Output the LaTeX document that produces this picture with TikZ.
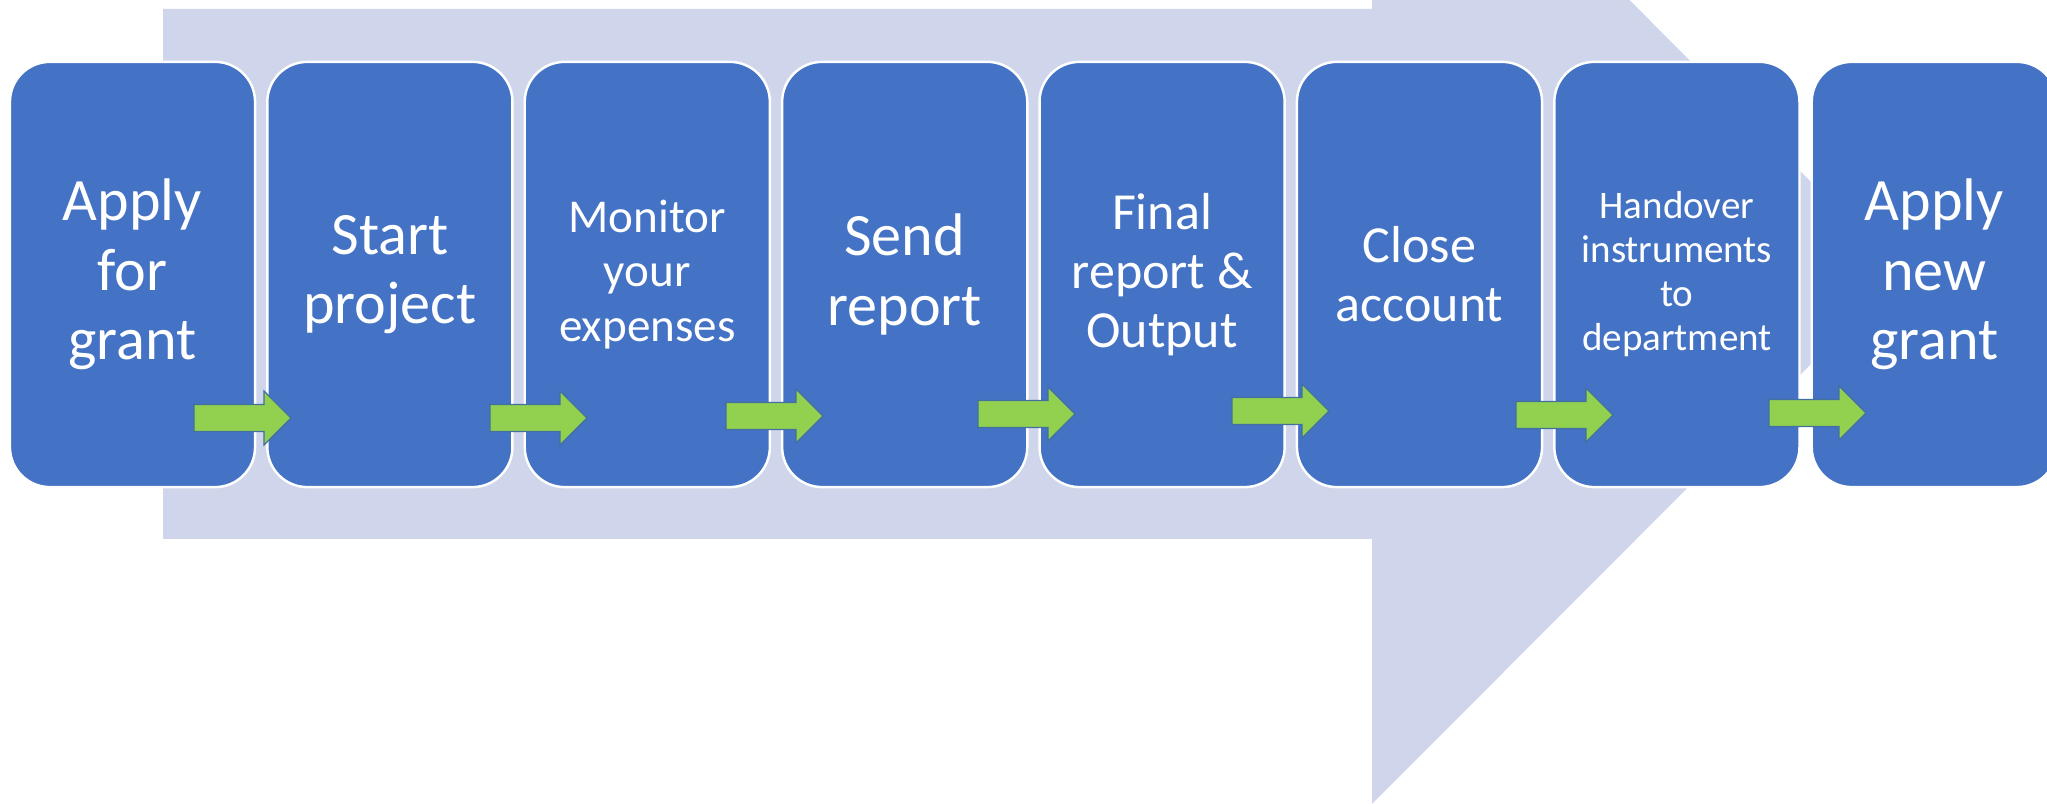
\documentclass[tikz,border=0pt]{standalone}
\usepackage{fontspec}
\setmainfont{Carlito}
\definecolor{boxblue}{HTML}{4472C4}
\definecolor{lavender}{HTML}{CFD5EA}
\definecolor{leafgreen}{HTML}{92D050}
\definecolor{arrowedge}{HTML}{41719C}

\begin{document}
\begin{tikzpicture}[x=0.01cm, y=-0.01cm,
  stepbox/.style={draw=white, line width=0.7pt, fill=boxblue, rounded corners=0.4cm,
    minimum width=2.45cm, minimum height=4.25cm, inner sep=0pt, align=center, text=white},
  bigtext/.style={font=\fontsize{17.1pt}{19.7pt}\selectfont},
  midtext/.style={font=\fontsize{14.8pt}{16.8pt}\selectfont},
  smalltext/.style={font=\fontsize{13.4pt}{15.4pt}\selectfont},
  tinytext/.style={font=\fontsize{11.1pt}{12.5pt}\selectfont},
  backarrow/.style={fill=lavender},
  blockarrow/.pic={
    \path[fill=leafgreen, draw=arrowedge, line width=0.35pt]
      (0,-13.5) -- (70,-13.5) -- (70,-27) -- (97,0) -- (70,27) -- (70,13.5) -- (0,13.5) -- cycle;
  }
]
\useasboundingbox (0,0) rectangle (2047,804);
\clip (0,0) rectangle (2047,804);

% large background arrow
\path[backarrow] (163,9) -- (1372,9) -- (1372,-258) -- (1902,273) -- (1372,804)
  -- (1372,539) -- (163,539) -- cycle;

% process steps
\node[stepbox, bigtext]   (b1) at (132.5,274.5)  {Apply\\for\\grant};
\node[stepbox, bigtext]   (b2) at (389.9,274.5)  {Start\\project};
\node[stepbox, smalltext] (b3) at (647.3,274.5)  {Monitor\\your\\expenses};
\node[stepbox, bigtext]   (b4) at (904.7,274.5)  {Send\\report};
\node[stepbox, midtext]   (b5) at (1162.1,274.5) {Final\\report \&\\Output};
\node[stepbox, midtext]   (b6) at (1419.5,274.5) {Close\\account};
\node[stepbox, tinytext]  (b7) at (1676.9,274.5) {Handover\\instruments\\to\\department};
\node[stepbox, bigtext]   (b8) at (1934.3,274.5) {Apply\\new\\grant};

% green block arrows between the steps
\coordinate (g1) at (194,418);
\coordinate (g2) at (490,418);
\coordinate (g3) at (726,416);
\coordinate (g4) at (978,414);
\coordinate (g5) at (1232,411);
\coordinate (g6) at (1516,415);
\coordinate (g7) at (1769,413);
\foreach \g in {g1,g2,g3,g4,g5,g6,g7}
  \pic at (\g) {blockarrow};
\end{tikzpicture}
\end{document}
